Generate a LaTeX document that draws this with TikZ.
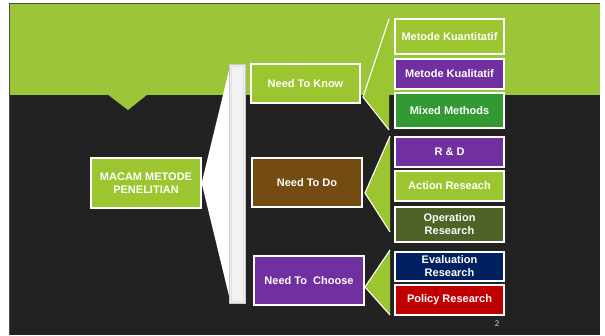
\documentclass[tikz,border=0pt]{standalone}
\usepackage{fontspec}
\setmainfont{Liberation Sans}
\definecolor{bandgreen}{HTML}{9BC63A}
\definecolor{boxgreen}{HTML}{9BC62F}
\definecolor{darkbg}{HTML}{222222}
\definecolor{kpurple}{HTML}{7030A0}
\definecolor{kgreen}{HTML}{339933}
\definecolor{kbrown}{HTML}{744C12}
\definecolor{kolive}{HTML}{4F6228}
\definecolor{knavy}{HTML}{002060}
\definecolor{kred}{HTML}{C00000}
\tikzset{
  cbox/.style={draw=white, line width=1.3pt, text=white, align=center, inner sep=0pt,
    font=\fontsize{11}{13}\selectfont\bfseries},
}
\begin{document}
\begin{tikzpicture}[x=1pt,y=-1pt]
\useasboundingbox (0,0) rectangle (605,335);
% slide background
\fill[white] (0,0) rectangle (605,335);
\fill[darkbg] (9,3) rectangle (600,335);
\fill[bandgreen] (9,3) rectangle (600,95);
\fill[bandgreen] (107,94) -- (148,94) -- (128,110) -- cycle;
\draw[color=black!70, line width=0.8pt] (9,335) -- (9,3) -- (600,3);

% main left box
\node[cbox, fill=boxgreen, minimum width=110pt, minimum height=50pt] (macam) at (146,183) {MACAM METODE\\PENELITIAN};

% big white connector
\coordinate (bartop) at (230,66);
\coordinate (barbot) at (230,300);
\fill[white] (macam.east) -- (bartop) -- (barbot) -- cycle;
\fill[color=white!95!black] (229,64) rectangle (245,303);
\draw[color=black!22, line width=0.6pt] (229,64) rectangle (245,303);
\draw[color=black!12, line width=0.6pt] (231.5,66) rectangle (243,301);

% level 2
\node[cbox, fill=boxgreen, minimum width=109pt, minimum height=39pt] (know) at (305.5,83.5) {Need To Know};
\node[cbox, fill=kbrown, minimum width=110pt, minimum height=49pt] (do) at (307,182.5) {Need To Do};
\node[cbox, fill=kpurple, minimum width=110pt, minimum height=49pt] (choose) at (309,280.5) {Need To\ \ Choose};

% brackets
\coordinate (k1) at (389,19); \coordinate (k2) at (389,130);
\fill[boxgreen] (k1) -- (363,97) -- (k2) -- cycle;
\draw[white, line width=1.1pt] (k1) -- (363,97) -- (k2);
\coordinate (d1) at (390,136); \coordinate (d2) at (390,232);
\fill[boxgreen] (d1) -- (365,193) -- (d2) -- cycle;
\draw[white, line width=1.1pt] (d1) -- (365,193) -- (d2);
\coordinate (c1) at (390,250); \coordinate (c2) at (390,315);
\fill[boxgreen] (c1) -- (365,287) -- (c2) -- cycle;
\draw[white, line width=1.1pt] (c1) -- (365,287) -- (c2);

% level 3
\node[cbox, fill=boxgreen, minimum width=109pt, minimum height=35pt] (kuant) at (449.5,36.5) {Metode Kuantitatif};
\node[cbox, fill=kpurple, minimum width=109pt, minimum height=30pt] (kual) at (449.5,74) {Metode Kualitatif};
\node[cbox, fill=kgreen, minimum width=109pt, minimum height=35pt] (mixed) at (449.5,110.5) {Mixed Methods};
\node[cbox, fill=kpurple, minimum width=109pt, minimum height=30pt] (rd) at (449.5,152) {R \& D};
\node[cbox, fill=boxgreen, minimum width=109pt, minimum height=30pt] (action) at (449.5,186) {Action Reseach};
\node[cbox, fill=kolive, minimum width=109pt, minimum height=35pt] (oper) at (449.5,224.5) {Operation\\Research};
\node[cbox, fill=knavy, minimum width=109pt, minimum height=29pt] (eval) at (449.5,266.5) {Evaluation\\Research};
\node[cbox, fill=kred, minimum width=109pt, minimum height=30pt] (policy) at (449.5,300) {Policy Research};

\node[text=black!15, font=\fontsize{8}{9}\selectfont, inner sep=0pt] (pnum) at (497,324) {2};
\end{tikzpicture}
\end{document}
